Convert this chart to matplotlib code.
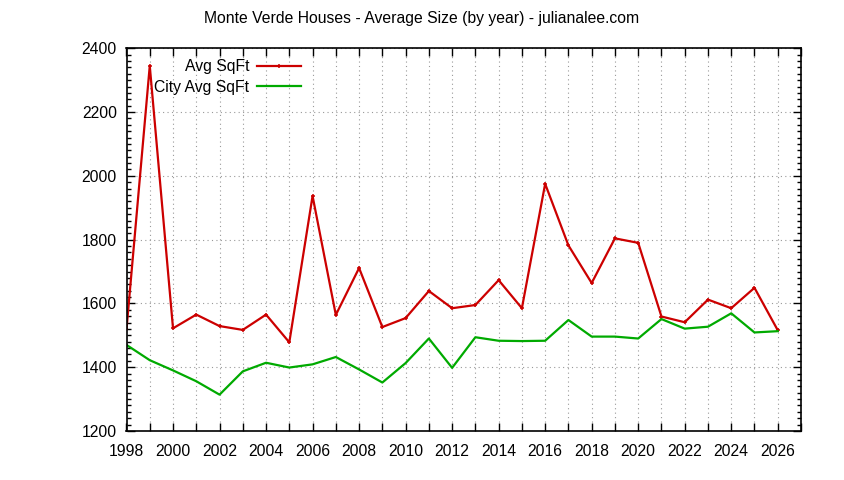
import matplotlib
matplotlib.use("Agg")
import matplotlib.pyplot as plt
from matplotlib.ticker import MultipleLocator

years = list(range(1998, 2027))
avg_sqft = [1519, 2345, 1522, 1565, 1529, 1517, 1565, 1478, 1937, 1564,
            1711, 1526, 1554, 1639, 1585, 1595, 1673, 1585, 1975, 1782,
            1664, 1804, 1790, 1559, 1541, 1612, 1585, 1649, 1516]
city_avg_sqft = [1470, 1422, 1390, 1356, 1314, 1387, 1414, 1399, 1409, 1432,
                 1393, 1352, 1413, 1490, 1398, 1494, 1483, 1482, 1483, 1548,
                 1496, 1496, 1490, 1551, 1521, 1527, 1569, 1509, 1513]
title = "Monte Verde Houses - Average Size (by year) - julianalee.com"

plt.rcParams['font.family'] = ['Liberation Sans', 'DejaVu Sans']
fs = 11.3

fig = plt.figure(figsize=(8.44, 4.80), dpi=100)
W, H = 844, 480
left, right, top, bottom = 126.5, 801, 48.3, 431
ax = fig.add_axes([left / W, 1 - bottom / H, (right - left) / W, (bottom - top) / H])

ax.plot(years, avg_sqft, color='#cc0000', lw=1.6, marker='+', ms=3.5, mew=1.1,
        label='Avg SqFt')
ax.plot(years, city_avg_sqft, color='#00aa00', lw=1.6, label='City Avg SqFt')

ax.set_xlim(1998, 2027)
ax.set_ylim(1200, 2400)
ax.xaxis.set_major_locator(MultipleLocator(2))
ax.xaxis.set_minor_locator(MultipleLocator(1))
ax.yaxis.set_major_locator(MultipleLocator(200))
ax.yaxis.set_minor_locator(MultipleLocator(20))
xt = list(range(1998, 2027, 2))
ax.set_xticks(xt)
ax.set_xticklabels([str(x) for x in xt])

ax.tick_params(axis='both', which='both', direction='in', top=True, right=True,
               labelsize=fs, color='black')
ax.tick_params(axis='both', which='major', length=6, width=1)
ax.tick_params(axis='x', which='minor', length=6, width=1)
ax.tick_params(axis='y', which='minor', length=3, width=1)
ax.tick_params(axis='x', pad=9)
ax.tick_params(axis='y', pad=7)

ax.grid(True, which='major', axis='y', color='#999999', ls=(0, (1, 3)), lw=0.8)
ax.grid(True, which='both', axis='x', color='#999999', ls=(0, (1, 3)), lw=0.8)
for s in ax.spines.values():
    s.set_linewidth(1.2)

leg = ax.legend(loc='upper right', bbox_to_anchor=((301 - left) / (right - left), (bottom - 59) / (bottom - top)),
                frameon=False, fontsize=fs, markerfirst=False, handlelength=2.8,
                handletextpad=0.5, labelspacing=0.38, borderaxespad=0, borderpad=0)
for t in leg.get_texts():
    t.set_ha('right')

fig.text(0.5, 1 - 18 / H, title, ha='center', va='center', fontsize=fs)

fig.savefig('out.png', dpi=100)
